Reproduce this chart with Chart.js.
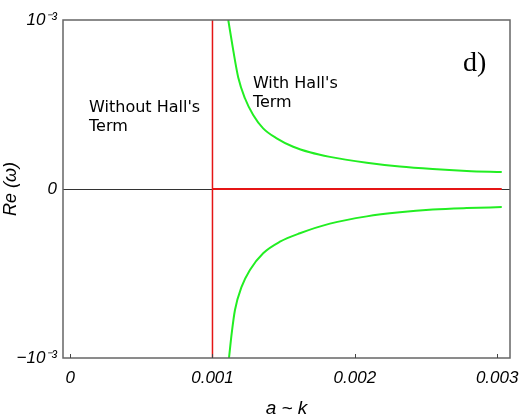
<!DOCTYPE html>
<html>
<head>
<meta charset="utf-8">
<script src="https://cdn.jsdelivr.net/npm/chart.js@4"></script>
<style>
  html, body { margin: 0; padding: 0; background: #fff; }
  #wrap { width: 526px; height: 420px; }
</style>
</head>
<body>
<div id="wrap"><canvas id="omegaChart" width="526" height="420"></canvas></div>
<script>
// values
const xTicks = [0, 0.001, 0.002, 0.003];
const yTicks = [-0.001, 0, 0.001];

const upperX = [0.001111, 0.001146, 0.001181, 0.001228, 0.001286, 0.001356, 0.001451, 0.001567, 0.001684, 0.001825, 0.002084, 0.002316, 0.002547, 0.002786, 0.003032];
const upperY = [0.001, 0.00082, 0.00066, 0.000537, 0.000438, 0.000359, 0.0003, 0.00025, 0.000217, 0.00019, 0.000156, 0.000133, 0.000118, 0.000107, 0.0001];

const lowerX = [0.001116, 0.001135, 0.001158, 0.001205, 0.001263, 0.001356, 0.001474, 0.001614, 0.001825, 0.002084, 0.002316, 0.002547, 0.002786, 0.003032];
const lowerY = [-0.001, -0.000854, -0.000716, -0.000578, -0.000479, -0.00038, -0.000312, -0.000262, -0.000205, -0.000162, -0.000138, -0.000122, -0.000113, -0.000107];

const noHallX = [0.001, 0.001];
const noHallY = [-0.001, 0.001];
const zeroX = [0.001, 0.003032];
const zeroY = [0, 0];

function toPoints(xs, ys) {
    return xs.map((x, i) => ({ x: x, y: ys[i] }));
}

const notes = [
    { text: ["Without Hall's", 'Term'], x: 0.000133, y: 0.000456, font: '16px "DejaVu Sans"', lh: 19 },
    { text: ["With Hall's", 'Term'], x: 0.001284, y: 0.000598, font: '16px "DejaVu Sans"', lh: 19 },
    { text: ['d)'], x: 0.00276, y: 0.000698, font: '28px "Liberation Serif"', lh: 0 }
];

const framePlugin = {
    id: 'frame',
    afterDraw(chart) {
        const { ctx, chartArea: a, scales } = chart;
        ctx.save();
        ctx.strokeStyle = '#666';
        ctx.lineWidth = 1.5;
        ctx.strokeRect(a.left, a.top, a.right - a.left, a.bottom - a.top);
        ctx.lineWidth = 1;
        ctx.strokeStyle = '#444';
        xTicks.forEach(v => {
            const px = Math.round(scales.x.getPixelForValue(v)) + 0.5;
            ctx.beginPath();
            ctx.moveTo(px, a.bottom);
            ctx.lineTo(px, a.bottom - 4);
            ctx.stroke();
        });
        ctx.fillStyle = '#000';
        ctx.textBaseline = 'alphabetic';
        notes.forEach(n => {
            ctx.font = n.font;
            const px = scales.x.getPixelForValue(n.x);
            const py = scales.y.getPixelForValue(n.y);
            n.text.forEach((line, i) => ctx.fillText(line, px, py + i * n.lh));
        });
        ctx.restore();
    }
};

new Chart(document.getElementById('omegaChart').getContext('2d'), {
    type: 'scatter',
    data: {
        datasets: [
            { data: toPoints(upperX, upperY), showLine: true, borderColor: '#22ee22', borderWidth: 2, pointRadius: 0, cubicInterpolationMode: 'monotone' },
            { data: toPoints(lowerX, lowerY), showLine: true, borderColor: '#22ee22', borderWidth: 2, pointRadius: 0, cubicInterpolationMode: 'monotone' },
            { data: toPoints(zeroX, zeroY), showLine: true, borderColor: '#e51515', borderWidth: 2, pointRadius: 0 },
            { data: toPoints(noHallX, noHallY), showLine: true, borderColor: '#e51515', borderWidth: 1.5, pointRadius: 0 }
        ]
    },
    options: {
        responsive: false,
        animation: false,
        layout: { padding: { top: 20, right: 16, left: 0, bottom: 0 } },
        plugins: { legend: { display: false }, tooltip: { enabled: false } },
        scales: {
            x: {
                type: 'linear',
                min: -0.00005,
                max: 0.00309,
                afterBuildTicks: s => { s.ticks = xTicks.map(v => ({ value: v })); },
                afterFit: s => { s.height = 62; s.paddingLeft = 0; s.paddingRight = 0; },
                ticks: {
                    color: '#000',
                    padding: 10,
                    font: { family: '"Liberation Sans"', size: 17, style: 'italic' },
                    callback: v => (v === 0 ? '0' : v.toFixed(3))
                },
                grid: { display: false, drawTicks: false },
                border: { display: false },
                title: {
                    display: true,
                    text: 'a ~ k',
                    color: '#000',
                    padding: { top: 4, bottom: 0 },
                    font: { family: '"Liberation Sans"', size: 19, style: 'italic' }
                }
            },
            y: {
                type: 'linear',
                min: -0.001,
                max: 0.001,
                afterBuildTicks: s => { s.ticks = yTicks.map(v => ({ value: v })); },
                afterFit: s => { s.width = 63; s.paddingTop = 0; s.paddingBottom = 0; },
                ticks: {
                    color: '#000',
                    padding: 6,
                    font: { family: '"Liberation Sans"', size: 17, style: 'italic' },
                    callback: v => (v === 0 ? '0' : (v < 0 ? '\u221210\u207B\u00B3' : '10\u207B\u00B3'))
                },
                grid: {
                    drawTicks: false,
                    lineWidth: 1,
                    color: c => (c.tick && c.tick.value === 0 ? '#333' : 'rgba(0,0,0,0)')
                },
                border: { display: false },
                title: {
                    display: true,
                    text: 'Re (\u03C9)',
                    color: '#000',
                    padding: { top: 0, bottom: 0 },
                    font: { family: '"Liberation Sans"', size: 18, style: 'italic' }
                }
            }
        }
    },
    plugins: [framePlugin]
});
</script>
</body>
</html>
